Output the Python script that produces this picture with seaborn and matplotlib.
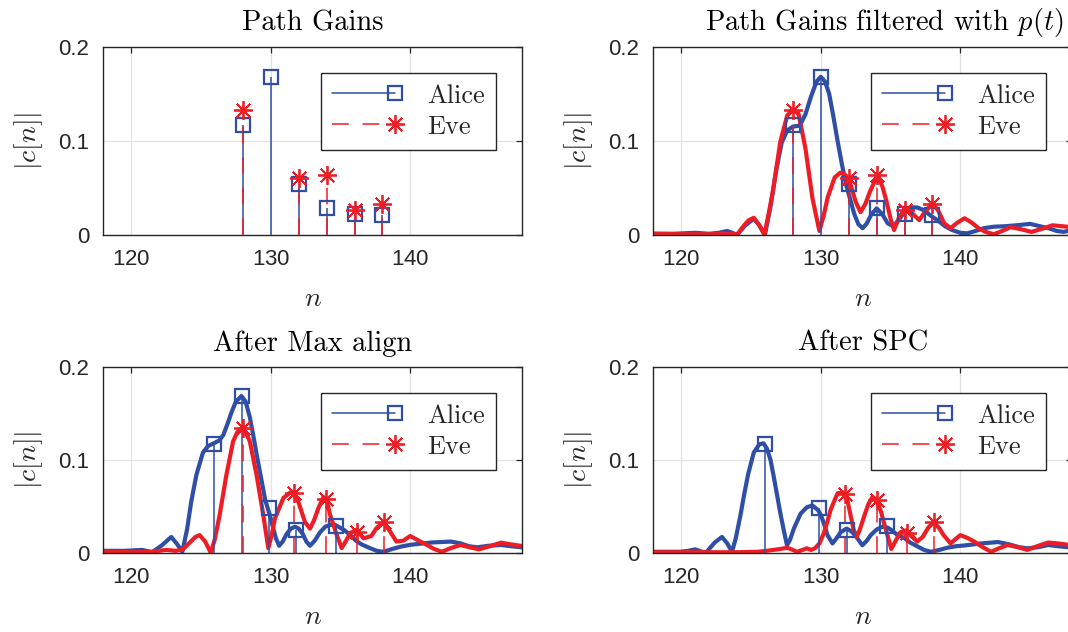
import numpy as np
import matplotlib
matplotlib.use("Agg")
import matplotlib.pyplot as plt
import seaborn as sns
from matplotlib.lines import Line2D
from matplotlib.legend_handler import HandlerLine2D

# ---------------- data ----------------
# Path gains (stems) -- top panels
pg_alice_n = [128, 130, 132, 134, 136, 138]
pg_alice_v = [0.117, 0.168, 0.054, 0.028, 0.022, 0.021]
pg_eve_n = [128, 132, 134, 136, 138]
pg_eve_v = [0.133, 0.060, 0.063, 0.026, 0.033]

# Peaks after max align (bottom-left)
ma_alice_n = [125.95, 127.95, 129.85, 131.8, 134.7]
ma_alice_v = [0.117, 0.169, 0.048, 0.0245, 0.029]
ma_eve_n = [128.0, 131.65, 133.95, 136.2, 138.1]
ma_eve_v = [0.134, 0.064, 0.058, 0.0227, 0.0334]

# Peaks after SPC (bottom-right)
spc_alice_n = [125.98, 129.86, 131.85, 134.73]
spc_alice_v = [0.117, 0.048, 0.0245, 0.029]
spc_eve_n = [131.7, 134.06, 136.2, 138.1]
spc_eve_v = [0.063, 0.057, 0.0216, 0.0334]

# Filtered curves (top-right)
tr_alice_n = [118.0, 119.5, 121.0, 122.0, 122.7, 123.3, 124.0, 124.6, 125.2, 125.6, 126.0, 126.4, 126.8,
              127.2, 127.6, 128.0, 128.5, 128.9, 129.3, 129.7, 130.0, 130.3, 130.6, 130.9, 131.2, 131.5,
              131.8, 132.1, 132.4, 132.7, 133.0, 133.3, 133.6, 134.0, 134.4, 134.8, 135.2, 135.6, 136.0,
              136.5, 136.9, 137.4, 137.9, 138.4, 138.9, 139.4, 140.0, 140.5, 141.1, 141.7, 142.4, 143.2,
              144.0, 145.0, 145.7, 146.3, 146.9, 147.4, 148.0]
tr_alice_v = [0.001, 0.001, 0.002, 0.001, 0.002, 0.004, 0.0, 0.010, 0.017, 0.010, 0.0, 0.030, 0.068,
              0.098, 0.111, 0.115, 0.116, 0.128, 0.147, 0.163, 0.168, 0.163, 0.150, 0.126, 0.100, 0.076,
              0.054, 0.038, 0.022, 0.011, 0.007, 0.012, 0.021, 0.028, 0.022, 0.012, 0.009, 0.016, 0.024,
              0.029, 0.029, 0.026, 0.020, 0.015, 0.009, 0.005, 0.002, 0.0015, 0.004, 0.007, 0.0085, 0.009,
              0.010, 0.0115, 0.009, 0.007, 0.004, 0.003, 0.005]
tr_eve_n = [118.0, 120.0, 122.0, 123.5, 124.0, 124.4, 124.8, 125.2, 125.6, 125.96, 126.3, 126.6, 127.1,
            127.6, 128.0, 128.4, 128.9, 129.4, 129.9, 130.2, 130.5, 131.0, 131.4, 131.8, 132.1, 132.5,
            132.85, 133.2, 133.5, 134.05, 134.4, 134.7, 135.0, 135.25, 135.6, 136.0, 136.4, 137.05,
            137.5, 138.0, 138.4, 138.85, 139.3, 139.8, 140.3, 140.8, 141.3, 141.8, 142.4, 143.0, 143.6,
            144.3, 145.1, 145.8, 146.6, 147.3, 148.0]
tr_eve_v = [0.001, 0.0005, 0.0005, 0.001, 0.0, 0.008, 0.015, 0.018, 0.010, 0.0, 0.025, 0.049, 0.099,
            0.127, 0.133, 0.129, 0.092, 0.039, 0.004, 0.020, 0.040, 0.061, 0.066, 0.063, 0.055, 0.035,
            0.024, 0.033, 0.045, 0.063, 0.052, 0.036, 0.017, 0.005, 0.018, 0.027, 0.025, 0.0155,
            0.025, 0.033, 0.026, 0.012, 0.007, 0.013, 0.0175, 0.013, 0.007, 0.003, 0.0005, 0.004, 0.008,
            0.006, 0.003, 0.006, 0.010, 0.009, 0.008]

# Curves after max align (bottom-left)
ma_alice_cn = [118.0, 119.5, 120.8, 121.5, 122.2, 122.87, 123.3, 123.66, 124.0, 124.3, 124.67, 125.14,
               125.5, 125.91, 126.3, 126.6, 126.9, 127.2, 127.5, 127.9, 128.2, 128.5, 128.8, 129.0,
               129.3, 129.6, 129.94, 130.2, 130.37, 130.6, 130.85, 131.13, 131.45, 131.73, 132.0, 132.3,
               132.55, 132.81, 133.15, 133.53, 133.9, 134.25, 134.6, 134.85, 135.3, 135.7, 136.1, 136.5,
               137.1, 137.6, 138.08, 138.7, 139.3, 140.0, 140.5, 141.5, 142.9, 143.6, 144.2, 144.8,
               145.6, 146.5, 147.2, 148.0]
ma_alice_cv = [0.002, 0.002, 0.003, 0.0005, 0.008, 0.017, 0.009, 0.001, 0.025, 0.055, 0.084, 0.108,
               0.115, 0.118, 0.121, 0.127, 0.139, 0.152, 0.163, 0.169, 0.163, 0.146, 0.122, 0.105,
               0.081, 0.057, 0.040, 0.025, 0.0155, 0.0075, 0.012, 0.020, 0.026, 0.028, 0.026, 0.020,
               0.012, 0.0075, 0.013, 0.022, 0.028, 0.030, 0.030, 0.028, 0.024, 0.019, 0.013, 0.009,
               0.005, 0.002, 0.001, 0.004, 0.0065, 0.0085, 0.0093, 0.011, 0.012, 0.010, 0.007, 0.0058,
               0.0075, 0.0083, 0.007, 0.0058]
ma_eve_cn = [118.0, 120.0, 121.5, 122.5, 123.2, 123.7, 124.2, 124.6, 124.9, 125.3, 125.7, 126.0, 126.34,
             126.82, 127.3, 127.6, 127.95, 128.2, 128.5, 128.98, 129.46, 129.82, 130.05, 130.3, 130.9,
             131.49, 131.97, 132.45, 132.81, 133.1, 133.41, 133.77, 134.0, 134.25, 134.73, 135.08,
             135.4, 135.68, 136.16, 136.64, 137.2, 137.6, 138.08, 138.5, 139.0, 139.5, 139.99, 140.6,
             141.2, 141.7, 142.27, 142.9, 143.59, 144.2, 144.9, 145.7, 146.5, 147.2, 148.0]
ma_eve_cv = [0.001, 0.0005, 0.001, 0.003, 0.002, 0.0036, 0.011, 0.017, 0.019, 0.012, 0.0, 0.015, 0.041,
             0.084, 0.120, 0.130, 0.134, 0.130, 0.120, 0.084, 0.041, 0.005, 0.018, 0.037, 0.059,
             0.066, 0.055, 0.033, 0.026, 0.035, 0.048, 0.060, 0.057, 0.041, 0.019, 0.005,
             0.013, 0.021, 0.025, 0.0155, 0.018, 0.027, 0.033, 0.024, 0.012, 0.013, 0.018, 0.013,
             0.0083, 0.004, 0.001, 0.005, 0.0083, 0.006, 0.0036, 0.007, 0.0108, 0.009, 0.0072]

# Curves after SPC (bottom-right)
spc_alice_cn = [118.0, 119.9, 120.5, 121.0, 121.5, 121.8, 122.4, 122.92, 123.3, 123.64, 123.9, 124.24,
                124.5, 124.8, 125.2, 125.6, 125.9, 126.15, 126.4, 126.63, 126.87, 127.11, 127.35, 127.58,
                127.8, 128.07, 128.55, 129.0, 129.4, 129.8, 130.0, 130.3, 130.48, 130.84, 131.1, 131.42,
                131.85, 132.2, 132.5, 132.98, 133.3, 133.58, 134.0, 134.4, 134.8, 135.1, 135.5, 135.97,
                136.4, 136.9, 137.4, 137.9, 138.5, 139.1, 139.7, 140.3, 141.5, 142.7, 143.5, 144.2,
                144.8, 145.6, 146.3, 147.0, 148.0]
spc_alice_cv = [0.001, 0.001, 0.002, 0.0036, 0.001, 0.0005, 0.011, 0.017, 0.010, 0.001, 0.015, 0.040,
                0.062, 0.085, 0.108, 0.117, 0.118, 0.112, 0.100, 0.082, 0.062, 0.042, 0.024, 0.008,
                0.014, 0.026, 0.042, 0.049, 0.051, 0.046, 0.041, 0.028, 0.019, 0.010, 0.015, 0.022,
                0.026, 0.023, 0.018, 0.008, 0.013, 0.019, 0.025, 0.028, 0.027, 0.024, 0.019, 0.016,
                0.011, 0.007, 0.003, 0.001, 0.003, 0.0055, 0.007, 0.0078, 0.010, 0.0115, 0.009, 0.006,
                0.0047, 0.006, 0.0083, 0.007, 0.0055]
spc_eve_cn = [118.0, 124.0, 125.5, 126.1, 126.6, 127.1, 127.6, 128.0, 128.3, 128.7, 129.0, 129.3, 129.6,
              129.9, 130.22, 130.5, 130.7, 131.0, 131.2, 131.6, 131.9, 132.14, 132.35, 132.57, 132.8,
              133.1, 133.4, 133.7, 134.0, 134.3, 134.66, 135.05, 135.3, 135.7, 136.1, 136.5, 136.9,
              137.3, 137.7, 138.1, 138.5, 138.8, 139.3, 139.6, 140.0, 140.5, 141.0, 141.6, 142.2, 142.8,
              143.4, 144.1, 144.8, 145.5, 146.3, 147.0, 148.0]
spc_eve_cv = [0.0005, 0.0005, 0.001, 0.002, 0.003, 0.004, 0.0054, 0.003, 0.001, 0.003, 0.0047, 0.003,
              0.005, 0.010, 0.021, 0.035, 0.046, 0.057, 0.064, 0.065, 0.057, 0.040, 0.025, 0.017, 0.025,
              0.039, 0.052, 0.060, 0.057, 0.045, 0.025, 0.004, 0.011, 0.022, 0.024, 0.019, 0.012,
              0.017, 0.027, 0.033, 0.026, 0.019, 0.010, 0.014, 0.019, 0.016, 0.012, 0.006, 0.001, 0.005,
              0.0083, 0.006, 0.003, 0.007, 0.011, 0.010, 0.008]

titles = ["Path Gains", r"Path Gains filtered with $p(t)$", "After Max align", "After SPC"]
series_labels = ["Alice", "Eve"]
x_ticks = [120, 130, 140]
y_ticks = [0, 0.1, 0.2]
y_tick_labels = ["0", "0.1", "0.2"]

# ---------------- style ----------------
sns.set_theme(style="white")
plt.rcParams["font.family"] = ["Liberation Sans", "DejaVu Sans"]
plt.rcParams["mathtext.fontset"] = "cm"
plt.rcParams["axes.formatter.use_mathtext"] = True

BLUE = "#2f4fa6"
RED = "#ee1d25"
AXC = "#262626"
GRID = "#e3e3e3"

fig = plt.figure(figsize=(10.68, 6.32), dpi=100)
W, H = 1068.0, 632.0
ax_w = 418.7 / W
pos = [
    [103.3 / W, 1 - 234.7 / H, ax_w, 188.0 / H],
    [653.3 / W, 1 - 234.7 / H, ax_w, 188.0 / H],
    [103.3 / W, 1 - 552.7 / H, ax_w, 185.4 / H],
    [653.3 / W, 1 - 552.7 / H, ax_w, 185.4 / H],
]
axes = [fig.add_axes(p) for p in pos]
title_x = [0.5, 0.551, 0.5, 0.5]


class EndMarkerHandler(HandlerLine2D):
    """Legend entry: line sample with the marker at its right end."""

    def create_artists(self, legend, orig_handle, xdescent, ydescent, width, height, fontsize, trans):
        x0, x1 = -xdescent, -xdescent + width
        y = (height - ydescent) / 2
        line = Line2D([x0, x1], [y, y])
        self.update_prop(line, orig_handle, legend)
        line.set_marker("None")
        mark = Line2D([x1], [y])
        self.update_prop(mark, orig_handle, legend)
        mark.set_linestyle("None")
        line.set_transform(trans)
        mark.set_transform(trans)
        return [line, mark]


EVE_DASH = (0, (11, 9))
STAR = (8, 2, 0)
LW_STEM = 1.1


def draw_stems(ax, an, av, en, ev):
    ax.vlines(an, 0, av, colors=BLUE, lw=LW_STEM, zorder=3)
    ax.vlines(en, 0, ev, colors=RED, lw=LW_STEM, linestyles=[EVE_DASH], zorder=4)
    ax.plot(an, av, ls="none", marker="s", ms=10, mfc="none", mec=BLUE, mew=1.6, zorder=5)
    ax.plot(en, ev, ls="none", marker=STAR, ms=13.5, mfc=RED, mec=RED, mew=1.3, zorder=6)


def draw_curves(ax, an, av, en, ev):
    sns.lineplot(x=an, y=av, ax=ax, color=BLUE, lw=3.0, sort=False, estimator=None, zorder=2,
                 solid_joinstyle="round", solid_capstyle="round")
    sns.lineplot(x=en, y=ev, ax=ax, color=RED, lw=3.0, sort=False, estimator=None, zorder=2.5,
                 solid_joinstyle="round", solid_capstyle="round")


draw_stems(axes[0], pg_alice_n, pg_alice_v, pg_eve_n, pg_eve_v)
draw_curves(axes[1], tr_alice_n, tr_alice_v, tr_eve_n, tr_eve_v)
draw_stems(axes[1], pg_alice_n, pg_alice_v, pg_eve_n, pg_eve_v)
draw_curves(axes[2], ma_alice_cn, ma_alice_cv, ma_eve_cn, ma_eve_cv)
draw_stems(axes[2], ma_alice_n, ma_alice_v, ma_eve_n, ma_eve_v)
draw_curves(axes[3], spc_alice_cn, spc_alice_cv, spc_eve_cn, spc_eve_cv)
draw_stems(axes[3], spc_alice_n, spc_alice_v, spc_eve_n, spc_eve_v)

h_alice = Line2D([], [], color=BLUE, lw=LW_STEM, marker="s", ms=10, mfc="none", mec=BLUE, mew=1.6)
h_eve = Line2D([], [], color=RED, lw=LW_STEM, ls=EVE_DASH,
               marker=STAR, ms=13.5, mfc=RED, mec=RED, mew=1.3)

for i, ax in enumerate(axes):
    ax.set_xlim(118, 148)
    ax.set_ylim(0, 0.2)
    ax.set_xticks(x_ticks)
    ax.set_yticks(y_ticks)
    ax.set_yticklabels(y_tick_labels)
    ax.grid(True, color=GRID, lw=0.9)
    ax.set_axisbelow(True)
    for s in ax.spines.values():
        s.set_visible(True)
        s.set_color(AXC)
        s.set_linewidth(1.0)
    ax.tick_params(axis="both", which="both", direction="in", length=4, width=0.9, color=AXC,
                   labelsize=16, labelcolor=AXC, top=True, right=True, pad=10)
    ax.set_xlabel(r"$n$", fontsize=20, color=AXC, labelpad=12)
    ax.set_ylabel(r"$|c[n]|$", fontsize=20, color=AXC, labelpad=10)
    ax.set_title(titles[i], fontsize=20.5, family="cmr10", color="black", pad=12)
    ax.title.set_x(title_x[i])
    anchor_y = 0.8617 if i < 2 else 0.863
    leg = ax.legend([h_alice, h_eve], series_labels, loc="upper right",
                    bbox_to_anchor=(0.9379, anchor_y), borderaxespad=0,
                    prop={"family": "cmr10", "size": 19}, handlelength=2.4, handletextpad=1.2,
                    borderpad=0.42, labelspacing=0.28, frameon=True, fancybox=False,
                    edgecolor=AXC, framealpha=1,
                    handler_map={Line2D: EndMarkerHandler()})
    leg.get_frame().set_linewidth(1.0)

fig.savefig("out.png", dpi=100)
